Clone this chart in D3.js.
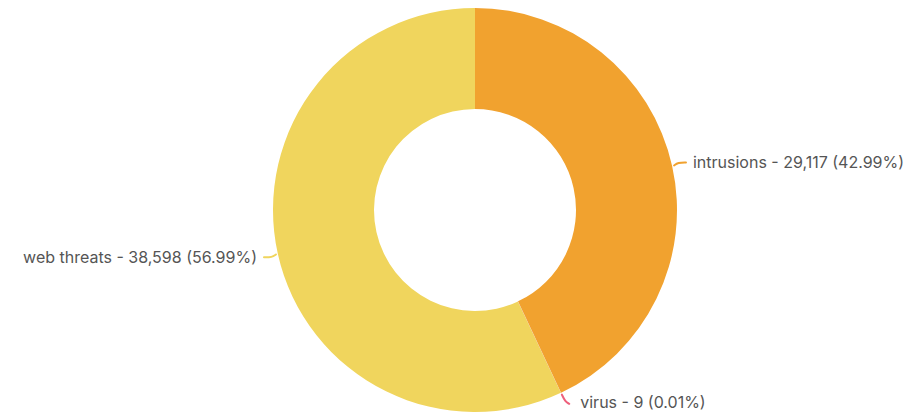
<!DOCTYPE html>
<html><head><meta charset="utf-8">
<script src="https://cdn.jsdelivr.net/npm/d3@7"></script>
<style>html,body{margin:0;padding:0;background:#fff;}svg{display:block;}</style>
</head><body>
<svg id="chart" width="912" height="416"></svg>
<script>
const categories = ["intrusions", "virus", "web threats"];
const values = [29117, 9, 38598];
const colors = ["#F1A22F", "#EE5F7B", "#F0D55D"];

const W = 912, H = 416, cx = 475, cy = 210, R = 202, r = 101;
const svg = d3.select("#chart");
const g = svg.append("g").attr("transform", `translate(${cx},${cy})`);
const total = d3.sum(values);
const data = categories.map((c, i) => ({cat: c, value: values[i], color: colors[i]}));
const pie = d3.pie().sort(null).value(d => d.value);
const arcs = pie(data);
const arc = d3.arc().innerRadius(r).outerRadius(R);

g.selectAll("path.slice").data(arcs).join("path")
  .attr("class", "slice")
  .attr("d", arc)
  .attr("fill", d => d.data.color);

const fmt = d3.format(",");
const pct = v => (v / total * 100).toFixed(2) + "%";

arcs.forEach(d => {
  const a = (d.startAngle + d.endAngle) / 2;
  const right = Math.sin(a) >= 0;
  const p1 = [Math.sin(a) * (R + 2), -Math.cos(a) * (R + 2)];
  let p2, p3, tx, ty;
  if (d.data.cat === "virus") {
    p2 = [Math.sin(a) * (R + 10), -Math.cos(a) * (R + 10)];
    p3 = [p2[0] + 4, p2[1] + 2];
    tx = p3[0] + 11; ty = p3[1] - 1;
  } else {
    p2 = [Math.sin(a) * (R + 6), -Math.cos(a) * (R + 6) - (right ? 2 : -2)];
    p3 = [p2[0] + (right ? 8 : -8), p2[1]];
    tx = p3[0] + (right ? 7 : -7); ty = p3[1];
  }
  const line = d3.line().curve(d3.curveBasis);
  g.append("path")
    .attr("d", line([p1, p2, p3]))
    .attr("fill", "none")
    .attr("stroke", d.data.color)
    .attr("stroke-width", 2)
    .attr("stroke-linecap", "round");
  g.append("text")
    .attr("x", tx).attr("y", ty)
    .attr("dy", "0.35em")
    .attr("text-anchor", right ? "start" : "end")
    .attr("font-family", "Inter, 'Noto Sans', sans-serif")
    .attr("font-size", 16)
    .attr("fill", "#555")
    .text(`${d.data.cat} - ${fmt(d.data.value)} (${pct(d.data.value)})`);
});
</script>
</body></html>
